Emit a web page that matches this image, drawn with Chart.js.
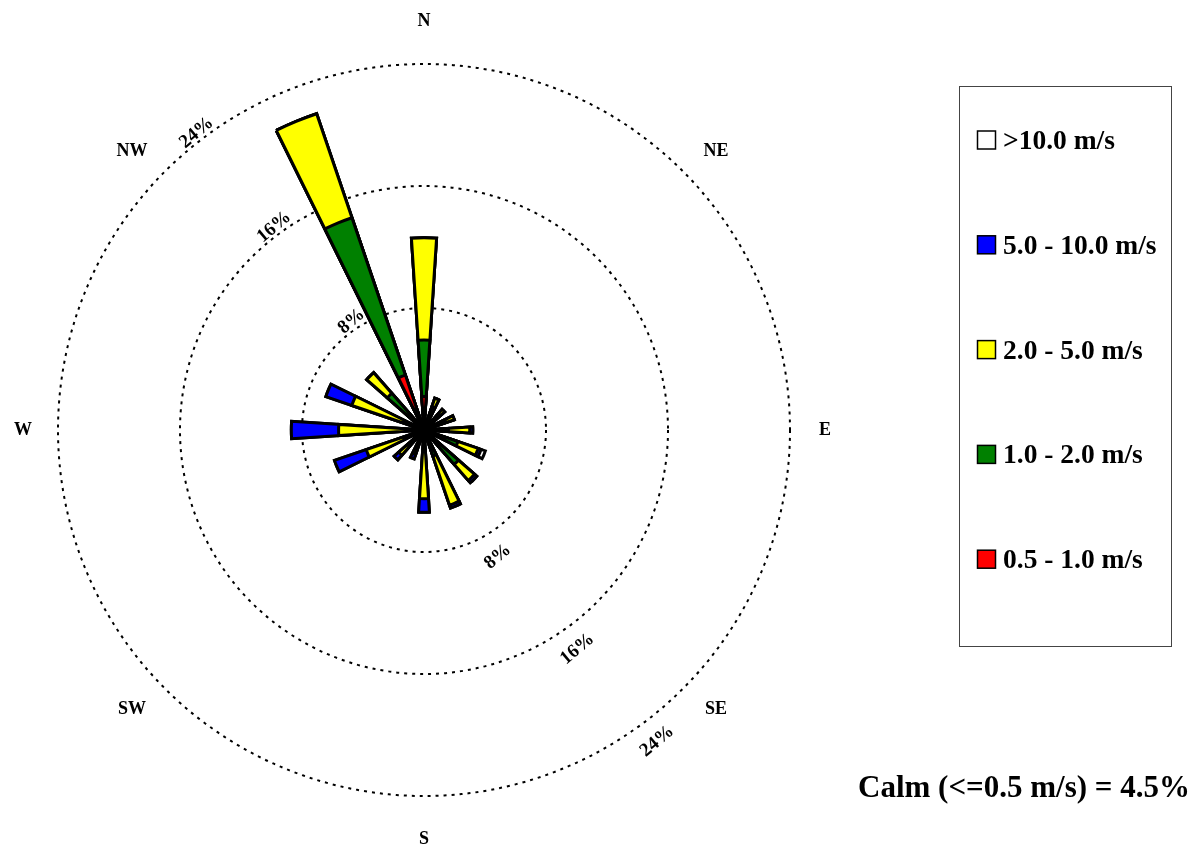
<!DOCTYPE html>
<html><head><meta charset="utf-8">
<script src="https://cdn.jsdelivr.net/npm/chart.js@4.4.0/dist/chart.umd.min.js"></script>
<style>html,body{margin:0;padding:0;background:#fff;} canvas{display:block;}</style>
</head><body>
<canvas id="c" width="1195" height="849"></canvas>
<script>
// ---- data ----
const directions = ['N','NNE','NE','ENE','E','ESE','SE','SSE','S','SSW','SW','WSW','W','WNW','NW','NNW'];
const speedClasses = ['0.5 - 1.0 m/s','1.0 - 2.0 m/s','2.0 - 5.0 m/s','5.0 - 10.0 m/s','>10.0 m/s'];
const classColors = ['#ff0000','#008000','#ffff00','#0000ff','#ffffff'];
// frequency (%) per direction for each wind speed class
const freq_05_10  = [2.2,0.4,0.4,0.4,0.4,0.4,0.4,0.4,0.3,0.3,0.3,0.3,0.3,0.3,0.5,3.8];
const freq_10_20  = [3.7,1.2,0.9,1.1,1.2,1.95,2.6,1.4,0.5,0.5,0.5,0.5,0.5,0.5,2.7,10.9];
const freq_20_50  = [6.7,0.6,0.5,0.6,1.4,1.4,1.4,3.4,3.7,0.9,1.4,3.2,4.8,4.2,1.8,7.2];
const freq_50_100 = [0,0,0,0,0.2,0.2,0.2,0.2,0.9,0.3,0.4,2.2,3.1,1.8,0,0];
const freq_gt100  = [0,0,0,0,0,0.3,0,0,0,0,0,0,0,0,0,0];
const ringTicks = [8,16,24];
const compassLabels = ['N','NE','E','SE','S','SW','W','NW'];
const calmText = 'Calm (<=0.5 m/s) = 4.5%';

// ---- build cumulative stacked datasets ----
const classFreqs = [freq_05_10, freq_10_20, freq_20_50, freq_50_100, freq_gt100];
const cumulative = [];
classFreqs.forEach((arr, k) => {
  cumulative.push(arr.map((v, i) => (k ? cumulative[k-1][i] : 0) + v));
});
const slotLabels = [];
directions.forEach(d => { slotLabels.push(d); slotLabels.push(''); });
const BAR_DEG = 7.5, GAP_DEG = 360 / directions.length - BAR_DEG;

const datasets = cumulative.map((cum, k) => {
  const data = [];
  cum.forEach(v => { data.push(v); data.push(0); });
  return {
    label: speedClasses[k],
    data: data,
    backgroundColor: classColors[k],
    borderColor: '#000',
    borderWidth: ctx => (ctx.dataIndex % 2 ? 0 : 3),
    borderJoinStyle: 'miter',
    angle: ctx => (ctx.dataIndex % 2 ? GAP_DEG : BAR_DEG)
  };
});

const SERIF = '"Liberation Serif", "Times New Roman", serif';

const decorPlugin = {
  id: 'decor',
  afterDraw(chart) {
    const ctx = chart.ctx;
    const s = chart.scales.r;
    const cx = s.xCenter, cy = s.yCenter;
    ctx.save();
    ctx.fillStyle = '#000';
    // centre hub
    ctx.beginPath(); ctx.arc(cx, cy, 9, 0, Math.PI * 2); ctx.fill();
    // ring labels
    ctx.font = 'bold 19px ' + SERIF;
    ctx.textAlign = 'center';
    ctx.textBaseline = 'middle';
    ringTicks.forEach(v => {
      const R = s.getDistanceFromCenterForValue(v);
      // upper-left
      let a = -39.4 * Math.PI / 180;
      let ux = Math.sin(a), uy = -Math.cos(a);
      let tx = Math.cos(a), ty = Math.sin(a);
      let x = cx + (R + 8) * ux + 13 * tx, y = cy + (R + 8) * uy + 13 * ty;
      ctx.save(); ctx.translate(x, y); ctx.rotate(-40 * Math.PI / 180);
      ctx.fillText(v + '%', 0, 0); ctx.restore();
      // lower-right
      a = 139.2 * Math.PI / 180;
      ux = Math.sin(a); uy = -Math.cos(a);
      tx = -Math.cos(a); ty = -Math.sin(a);
      x = cx + (R + 22) * ux - 27 * tx; y = cy + (R + 22) * uy - 27 * ty;
      ctx.save(); ctx.translate(x, y); ctx.rotate(-40 * Math.PI / 180);
      ctx.fillText(v + '%', 0, 0); ctx.restore();
    });
    // compass labels
    ctx.font = 'bold 18px ' + SERIF;
    compassLabels.forEach((lab, k) => {
      const a = k * 45 * Math.PI / 180;
      let x, y;
      if (k % 2 === 0) {
        x = cx + 401 * Math.sin(a); y = cy - 409 * Math.cos(a);
      } else {
        x = cx + 292 * Math.sign(Math.sin(a)); y = cy - 279 * Math.sign(Math.cos(a));
      }
      ctx.fillText(lab, x, y);
    });
    // legend box
    ctx.strokeStyle = '#444';
    ctx.lineWidth = 1;
    ctx.strokeRect(959.5, 86.5, 212, 560);
    ctx.textAlign = 'left';
    ctx.textBaseline = 'alphabetic';
    ctx.font = 'bold 27.5px ' + SERIF;
    for (let row = 0; row < speedClasses.length; row++) {
      const k = speedClasses.length - 1 - row;
      const yc = 140 + row * 104.8;
      ctx.fillStyle = classColors[k];
      ctx.fillRect(977.5, yc - 9, 18, 18);
      ctx.strokeStyle = '#000';
      ctx.lineWidth = 1.5;
      ctx.strokeRect(977.5, yc - 9, 18, 18);
      ctx.fillStyle = '#000';
      ctx.fillText(speedClasses[k], 1003, yc + 9);
    }
    // calm text
    ctx.font = 'bold 31px ' + SERIF;
    ctx.textAlign = 'right';
    ctx.fillText(calmText, 1190, 797);
    ctx.restore();
  }
};

new Chart(document.getElementById('c'), {
  type: 'polarArea',
  data: { labels: slotLabels, datasets: datasets },
  options: {
    responsive: false,
    animation: false,
    devicePixelRatio: 1,
    events: [],
    layout: { padding: { left: 58, right: 405, top: 64, bottom: 53 } },
    plugins: { legend: { display: false }, tooltip: { enabled: false } },
    scales: {
      r: {
        min: 0, max: 24,
        startAngle: -BAR_DEG / 2,
        ticks: { display: false, stepSize: 8 },
        grid: { circular: true, color: '#000', lineWidth: 2 },
        border: { dash: [3, 5] },
        angleLines: { display: false },
        pointLabels: { display: false }
      }
    }
  },
  plugins: [decorPlugin]
});
</script>
</body></html>
